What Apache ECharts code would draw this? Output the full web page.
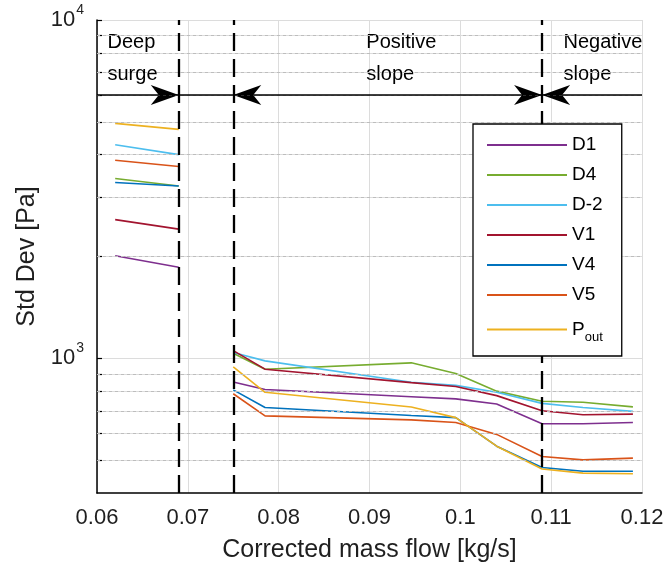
<!DOCTYPE html>
<html>
<head>
<meta charset="utf-8">
<script src="https://cdn.jsdelivr.net/npm/echarts@6/dist/echarts.min.js"></script>
<style>
  html, body { margin: 0; padding: 0; background: #fff; }
  #chart { width: 668px; height: 570px; }
</style>
</head>
<body>
<div id="chart"></div>
<script>
// Corrected mass flow sample points [kg/s]
const xSurge = [0.062, 0.069];
const xStable = [0.075, 0.0785, 0.0946, 0.0995, 0.104, 0.109, 0.1135, 0.119];

// Standard deviation of pressure [Pa] per sensor
const seriesNames = ['D1', 'D4', 'D-2', 'V1', 'V4', 'V5', 'Pout'];

const d1Surge = [2010, 1860];
const d1Stable = [851, 809, 770, 759, 733, 641, 641, 646];
const d4Surge = [3400, 3230];
const d4Stable = [1035, 929, 970, 902, 800, 747, 742, 719];
const dm2Surge = [4280, 4000];
const dm2Stable = [1040, 983, 850, 832, 794, 736, 716, 697];
const v1Surge = [2570, 2410];
const v1Stable = [1054, 929, 848, 826, 776, 700, 681, 684];
const v4Surge = [3310, 3230];
const v4Stable = [807, 716, 678, 668, 550, 476, 464, 464];
const v5Surge = [3850, 3690];
const v5Stable = [786, 676, 658, 646, 596, 513, 501, 507];
const poutSurge = [4950, 4750];
const poutStable = [944, 794, 718, 668, 550, 471, 458, 456];

// Operating-regime boundaries and annotations
const regimeBounds = [0.069, 0.075, 0.109];
const regimeNames = ['Deep\nsurge', 'Positive\nslope', 'Negative\nslope'];
const regimeTextX = [0.0611, 0.0896, 0.1113];
const arrowLevel = 6000;

// Log-axis tick values
const yMajorLabels = [1000, 10000];
const yMinorGrid = [500, 600, 700, 800, 900, 2000, 3000, 4000, 5000, 6000, 7000, 8000, 9000];

const palette = ['#7E2F8E', '#77AC30', '#4DBEEE', '#A2142F', '#0072BD', '#D95319', '#EDB120'];
const surgeSets = [d1Surge, d4Surge, dm2Surge, v1Surge, v4Surge, v5Surge, poutSurge];
const stableSets = [d1Stable, d4Stable, dm2Stable, v1Stable, v4Stable, v5Stable, poutStable];

const textColor = '#1f1f1f';
const font = '"Liberation Sans", Arial, Helvetica, sans-serif';

const series = [];

// Reference lines: minor log grid, regime boundaries, arrow baseline
series.push({
  type: 'line',
  data: [],
  silent: true,
  z: 1,
  markLine: {
    silent: true,
    symbol: 'none',
    precision: 6,
    label: { show: false },
    animation: false,
    lineStyle: { type: [3, 3], color: '#bdbdbd', width: 1 },
    data: yMinorGrid.map(v => ({ yAxis: v }))
  }
});

series.push({
  type: 'line',
  data: [],
  silent: true,
  z: 3,
  markLine: {
    silent: true,
    symbol: 'none',
    precision: 6,
    label: { show: false },
    animation: false,
    data: [
      ...regimeBounds.map(x => ({ xAxis: x, lineStyle: { type: [18, 8], color: '#000', width: 2.3 } })),
      { yAxis: arrowLevel, lineStyle: { type: 'solid', color: '#000', width: 1.5 } }
    ]
  }
});

// Measurement curves: one series for surge points, one for stable operation
seriesNames.forEach((name, i) => {
  const common = {
    name: name,
    type: 'line',
    symbol: 'none',
    showSymbol: false,
    z: 2,
    itemStyle: { color: palette[i] },
    lineStyle: { color: palette[i], width: 1.6 }
  };
  series.push(Object.assign({}, common, {
    data: xSurge.map((x, k) => [x, surgeSets[i][k]])
  }));
  series.push(Object.assign({}, common, {
    data: xStable.map((x, k) => [x, stableSets[i][k]])
  }));
});

// Arrowheads on the regime line
const arrowRight = 'path://M0,0 L28,10 L0,20 L8,10 Z';
const arrowLeft = 'path://M28,0 L0,10 L28,20 L20,10 Z';
series.push({
  type: 'scatter',
  silent: true,
  z: 3,
  symbol: arrowRight,
  symbolSize: [28, 20],
  symbolOffset: [-14, 0],
  itemStyle: { color: '#000', opacity: 1 },
  data: [[regimeBounds[0], arrowLevel], [regimeBounds[2], arrowLevel]]
});
series.push({
  type: 'scatter',
  silent: true,
  z: 3,
  symbol: arrowLeft,
  symbolSize: [28, 20],
  symbolOffset: [14, 0],
  itemStyle: { color: '#000', opacity: 1 },
  data: [[regimeBounds[1], arrowLevel], [regimeBounds[2], arrowLevel]]
});

// Regime captions
series.push({
  type: 'scatter',
  silent: true,
  z: 3,
  symbol: 'circle',
  symbolSize: 1,
  itemStyle: { color: 'rgba(0,0,0,0)', opacity: 1 },
  data: regimeNames.map((t, i) => ({ value: [regimeTextX[i], 7720], caption: t })),
  label: {
    show: true,
    position: 'right',
    distance: 0,
    color: '#000',
    fontFamily: font,
    fontSize: 20,
    lineHeight: 32,
    align: 'left',
    verticalAlign: 'middle',
    formatter: p => p.data.caption
  }
});

const option = {
  animation: false,
  backgroundColor: '#fff',
  textStyle: { fontFamily: font },
  grid: { left: 97, right: 26, top: 20, bottom: 77 },
  xAxis: {
    type: 'value',
    min: 0.06,
    max: 0.12,
    interval: 0.01,
    axisLine: { onZero: false, lineStyle: { color: '#000', width: 1.5 } },
    axisTick: { show: false },
    axisLabel: {
      color: textColor,
      fontSize: 22,
      margin: 14,
      fontFamily: font,
      formatter: v => String(+v.toFixed(2))
    },
    splitLine: { show: true, lineStyle: { color: '#dcdcdc', width: 1 } },
    name: 'Corrected mass flow [kg/s]',
    nameLocation: 'middle',
    nameGap: 45,
    nameTextStyle: { color: textColor, fontSize: 25, fontFamily: font }
  },
  yAxis: {
    type: 'log',
    logBase: 10,
    min: 400,
    max: 10000,
    axisLine: { show: true, onZero: false, lineStyle: { color: '#000', width: 1.5 } },
    axisTick: {
      show: true,
      inside: true,
      length: 5,
      lineStyle: { color: '#000', width: 1.2 },
      customValues: yMajorLabels.concat(yMinorGrid)
    },
    axisLabel: {
      color: textColor,
      fontFamily: font,
      margin: 13,
      customValues: yMajorLabels,
      formatter: v => {
        const e = Math.round(Math.log10(v));
        return Math.abs(Math.pow(10, e) - v) < 1e-6 * v ? '{b|10}{s|' + e + '}' : '';
      },
      rich: {
        b: { fontSize: 22, lineHeight: 24, verticalAlign: 'middle', color: textColor, fontFamily: font },
        s: { fontSize: 14, lineHeight: 14, verticalAlign: 'middle', padding: [0, 0, 20, 1], color: textColor, fontFamily: font }
      }
    },
    splitLine: { show: true, lineStyle: { color: '#dcdcdc', width: 1 } },
    name: 'Std Dev [Pa]',
    nameLocation: 'middle',
    nameGap: 57,
    nameRotate: 90,
    nameTextStyle: { color: textColor, fontSize: 25, fontFamily: font }
  },
  legend: {
    orient: 'vertical',
    left: 473,
    top: 124,
    z: 10,
    padding: [11, 19, 12, 14],
    itemGap: 10,
    itemWidth: 80,
    itemHeight: 2,
    icon: 'rect',
    backgroundColor: '#fff',
    borderColor: '#000',
    borderWidth: 1.3,
    selectedMode: false,
    data: seriesNames,
    formatter: name => name === 'Pout' ? '{p|P}{sub|out}' : name,
    textStyle: {
      color: '#000',
      fontSize: 19,
      lineHeight: 20,
      fontFamily: font,
      rich: {
        p: { fontSize: 19, lineHeight: 20, verticalAlign: 'middle', color: '#000', fontFamily: font },
        sub: { fontSize: 13, lineHeight: 14, verticalAlign: 'middle', padding: [16, 0, 0, 0], color: '#000', fontFamily: font }
      }
    }
  },
  series: series
};

const chart = echarts.init(document.getElementById('chart'), null, { renderer: 'canvas' });
chart.setOption(option);
</script>
</body>
</html>
